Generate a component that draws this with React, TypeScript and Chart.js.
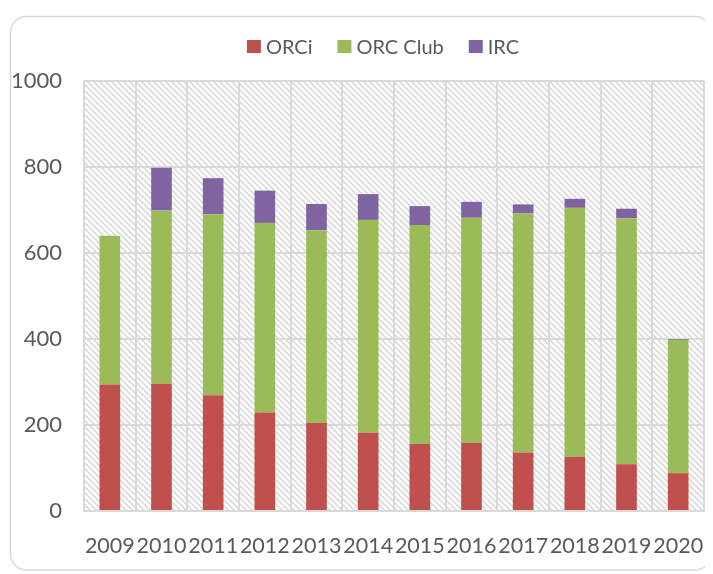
import React, { useEffect, useRef } from "react";
import { Chart, registerables } from "chart.js";

Chart.register(...registerables);

const years = ["2009", "2010", "2011", "2012", "2013", "2014", "2015", "2016", "2017", "2018", "2019", "2020"];
const orci = [294, 296, 269, 229, 205, 182, 156, 159, 136, 126, 109, 88];
const orcClub = [346, 403, 421, 441, 448, 495, 509, 523, 556, 579, 572, 310];
const irc = [0, 99, 84, 75, 61, 60, 44, 37, 21, 21, 22, 2];
const yTicks = [0, 200, 400, 600, 800, 1000];
const seriesNames = ["ORCi", "ORC Club", "IRC"];
const seriesColors = ["#C0504D", "#9BBB59", "#8064A2"];

const FONT = "Lato, 'Open Sans', sans-serif";
const TEXT = "#595959";
const GRID = "#d9d9d9";

function makePattern(ctx: CanvasRenderingContext2D) {
  const c = document.createElement("canvas");
  const s = 6;
  c.width = s;
  c.height = s;
  const p = c.getContext("2d")!;
  p.fillStyle = "#ffffff";
  p.fillRect(0, 0, s, s);
  p.strokeStyle = "#dadada";
  p.lineWidth = 1.6;
  p.beginPath();
  p.moveTo(-1, -1);
  p.lineTo(s + 1, s + 1);
  p.moveTo(-1 - s, -1);
  p.lineTo(1, s + 1);
  p.moveTo(s - 1, -1);
  p.lineTo(2 * s + 1, s + 1);
  p.stroke();
  return ctx.createPattern(c, "repeat");
}

const bgPlugin = {
  id: "bgPlugin",
  beforeDraw(chart: any) {
    const ctx = chart.ctx as CanvasRenderingContext2D;
    const a = chart.chartArea;
    ctx.save();
    const x0 = 2.5, y0 = 8.5, x1 = 703, y1 = 562, r = 16;
    ctx.beginPath();
    ctx.moveTo(x0 + r, y0);
    ctx.lineTo(x1 - r, y0);
    ctx.arcTo(x1, y0, x1, y0 + r, r);
    ctx.lineTo(x1, y1 - r);
    ctx.arcTo(x1, y1, x1 - r, y1, r);
    ctx.lineTo(x0 + r, y1);
    ctx.arcTo(x0, y1, x0, y1 - r, r);
    ctx.lineTo(x0, y0 + r);
    ctx.arcTo(x0, y0, x0 + r, y0, r);
    ctx.closePath();
    ctx.fillStyle = "#ffffff";
    ctx.fill();
    ctx.strokeStyle = GRID;
    ctx.lineWidth = 1.5;
    ctx.stroke();
    const pat = makePattern(ctx);
    if (pat) {
      ctx.fillStyle = pat;
      ctx.fillRect(a.left, a.top, a.right - a.left, a.bottom - a.top);
    }
    ctx.restore();
  },
  afterDatasetsDraw(chart: any) {
    const ctx = chart.ctx as CanvasRenderingContext2D;
    const a = chart.chartArea;
    ctx.save();
    ctx.strokeStyle = GRID;
    ctx.lineWidth = 2;
    ctx.beginPath();
    ctx.moveTo(a.left, a.bottom);
    ctx.lineTo(a.right, a.bottom);
    ctx.stroke();
    // custom legend
    ctx.font = `20px ${FONT}`;
    ctx.textBaseline = "middle";
    const box = 14, gap = 5, itemGap = 25;
    const widths = seriesNames.map((n) => box + gap + ctx.measureText(n).width);
    const total = widths.reduce((s, w) => s + w, 0) + itemGap * (widths.length - 1);
    let x = 375 - total / 2;
    const cy = 38.5;
    seriesNames.forEach((n, i) => {
      ctx.fillStyle = seriesColors[i];
      ctx.fillRect(x, cy - 6.5, box, 13);
      ctx.fillStyle = TEXT;
      ctx.textAlign = "left";
      ctx.fillText(n, x + box + gap, cy + 1);
      x += widths[i] + itemGap;
    });
    ctx.restore();
  },
};

export default function App() {
  const ref = useRef<HTMLCanvasElement>(null);
  useEffect(() => {
    const chart = new Chart(ref.current!, {
      type: "bar",
      data: {
        labels: years,
        datasets: [
          { label: seriesNames[0], data: orci, backgroundColor: seriesColors[0] },
          { label: seriesNames[1], data: orcClub, backgroundColor: seriesColors[1] },
          { label: seriesNames[2], data: irc, backgroundColor: seriesColors[2] },
        ],
      },
      options: {
        animation: false,
        responsive: false,
        devicePixelRatio: 1,
        layout: { padding: { top: 73, right: 9, bottom: 0, left: 0 } },
        datasets: { bar: { categoryPercentage: 0.4, barPercentage: 1, borderWidth: 0 } },
        plugins: {
          tooltip: { enabled: false },
          legend: { display: false },
        },
        scales: {
          x: {
            stacked: true,
            afterFit: (s: any) => {
              s.height = 63;
            },
            grid: {
              color: GRID,
              lineWidth: 2,
              drawTicks: true,
              tickLength: 22,
              tickColor: "rgba(0,0,0,0)",
              offset: true,
            },
            border: { color: GRID, width: 2 },
            ticks: { color: TEXT, font: { family: FONT, size: 21.5 }, padding: 0, maxRotation: 0, autoSkip: false },
          },
          y: {
            stacked: true,
            min: 0,
            max: 1000,
            afterBuildTicks: (s: any) => {
              s.ticks = yTicks.map((v) => ({ value: v }));
            },
            afterFit: (s: any) => {
              s.width = 76;
            },
            grid: { color: GRID, lineWidth: 2, drawTicks: false },
            border: { display: false },
            ticks: {
              color: TEXT,
              font: { family: FONT, size: 22 },
              padding: 22,
              callback: (v: any) => String(v),
            },
          },
        },
      },
      plugins: [bgPlugin],
    });
    return () => chart.destroy();
  }, []);
  return <canvas ref={ref} width={705} height={566} style={{ display: "block" }} />;
}
